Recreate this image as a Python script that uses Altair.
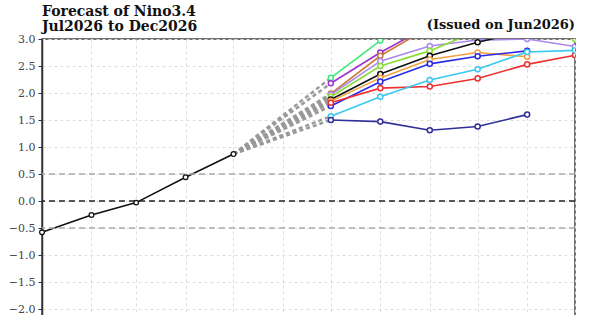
import altair as alt
import pandas as pd

# ---------------- data ----------------
obs_months = ["2026-01-01T00:00:00", "2026-02-01T00:00:00", "2026-03-01T00:00:00",
              "2026-04-01T00:00:00", "2026-05-01T00:00:00"]
obs_values = [-0.58, -0.26, -0.03, 0.44, 0.87]

fc_months = ["2026-07-01T00:00:00", "2026-08-01T00:00:00", "2026-09-01T00:00:00",
             "2026-10-01T00:00:00", "2026-11-01T00:00:00", "2026-12-01T00:00:00"]

model_names = ["Model 1", "Model 2", "Model 3", "Model 4", "Model 5", "Model 6",
               "Model 7", "Model 8", "Model 9", "Model 10", "Model 11"]
model_colors = ["#3fe67a", "#9933cc", "#cc7a3a", "#aa88ee", "#88dd33", "#111111",
                "#f5a040", "#2a2ae6", "#ee3030", "#38c8f0", "#30309a"]

m1 = [2.28, 2.97, 3.55, 3.80, 3.90, 3.90]
m2 = [2.18, 2.75, 3.25, 3.40, 3.50, 3.50]
m3 = [1.99, 2.69, 3.22, 3.40, 3.50, 3.50]
m4 = [1.97, 2.59, 2.87, 2.98, 3.00, 2.86]
m5 = [1.93, 2.50, 2.78, 3.15, 3.20, 3.00]
m6 = [1.88, 2.35, 2.69, 2.94, 3.15, 3.30]
m7 = [1.85, 2.28, 2.62, 2.75, 2.67, None]
m8 = [1.76, 2.21, 2.54, 2.68, 2.78, None]
m9 = [1.82, 2.09, 2.12, 2.27, 2.53, 2.70]
m10 = [1.57, 1.93, 2.24, 2.44, 2.76, 2.79]
m11 = [1.50, 1.47, 1.31, 1.38, 1.60, None]
model_values = [m1, m2, m3, m4, m5, m6, m7, m8, m9, m10, m11]

y_ticks = [-2.5, -2.0, -1.5, -1.0, -0.5, 0.0, 0.5, 1.0, 1.5, 2.0, 2.5, 3.0]
ref_levels = [0.5, -0.5]
zero_level = [0.0]
title_lines = ["Forecast of Nino3.4", "Jul2026 to Dec2026"]
issued_text = ["(Issued on Jun2026)"]

# ---------------- tables ----------------
obs_df = pd.DataFrame({"date": obs_months, "value": obs_values})

rows = []
for name, vals in zip(model_names, model_values):
    for d, v in zip(fc_months, vals):
        if v is not None:
            rows.append({"date": d, "value": v, "model": name})
fc_df = pd.DataFrame(rows)

conn_rows = []
for name, vals in zip(model_names, model_values):
    conn_rows.append({"date": obs_months[-1], "value": obs_values[-1], "model": name})
    conn_rows.append({"date": fc_months[0], "value": vals[0], "model": name})
conn_df = pd.DataFrame(conn_rows)

ref_df = pd.DataFrame({"value": ref_levels})
zero_df = pd.DataFrame({"value": zero_level})
issued_df = pd.DataFrame({"t": issued_text})

# ---------------- scales ----------------
x_scale = alt.Scale(domain=[alt.DateTime(year=2026, month=1, date=1),
                            alt.DateTime(year=2026, month=12, date=1)])
y_scale = alt.Scale(domain=[-2.5, 3.0], nice=False, zero=False)
color_scale = alt.Scale(domain=model_names, range=model_colors)

x_axis = alt.Axis(tickCount=alt.TimeIntervalStep(interval="month", step=1),
                  grid=True, gridDash=[3, 3], gridColor="#dddddd",
                  domain=False, labels=False, ticks=False)
y_axis = alt.Axis(values=y_ticks, format=".1f", grid=True, gridDash=[3, 3],
                  gridColor="#dddddd", domainColor="#333333", domainWidth=1.5,
                  tickColor="#333333", tickSize=4, labelPadding=3, labelOverlap=False,
                  labelFont="DejaVu Serif", labelColor="#444444", labelFontSize=11)

x_enc = alt.X("date:T", scale=x_scale, title=None, axis=x_axis)
y_enc = alt.Y("value:Q", scale=y_scale, title=None, axis=y_axis)

# ---------------- layers ----------------
ref_rules = alt.Chart(ref_df).mark_rule(color="#aaaaaa", strokeWidth=1.5, strokeDash=[6, 4]).encode(
    y=y_enc)
zero_rule = alt.Chart(zero_df).mark_rule(color="#222222", strokeWidth=1.5, strokeDash=[6, 4]).encode(
    y=y_enc)

connectors = alt.Chart(conn_df).mark_line(color="#999999", strokeWidth=2.5, strokeDash=[4, 3]).encode(
    x=x_enc, y=y_enc, detail="model:N")

obs_line = alt.Chart(obs_df).mark_line(color="#111111", strokeWidth=1.6).encode(x=x_enc, y=y_enc)
obs_pts = alt.Chart(obs_df).mark_point(shape="circle", filled=True, fill="white", stroke="#111111",
                                       strokeWidth=1.3, size=22, opacity=1).encode(x=x_enc, y=y_enc)

fc_lines = alt.Chart(fc_df).mark_line(strokeWidth=1.6, clip=True).encode(
    x=x_enc, y=y_enc,
    color=alt.Color("model:N", scale=color_scale, legend=None),
    order=alt.Order("date:T"))
fc_pts = alt.Chart(fc_df).mark_point(shape="circle", filled=True, fill="white", strokeWidth=1.5,
                                     size=26, opacity=1, clip=True).encode(
    x=x_enc, y=y_enc,
    stroke=alt.Stroke("model:N", scale=color_scale, legend=None))

issued = alt.Chart(issued_df).mark_text(align="right", baseline="alphabetic", font="DejaVu Serif",
                                        fontSize=13, fontWeight="bold", color="#111111").encode(
    x=alt.value(533), y=alt.value(-10), text="t:N")

chart = alt.layer(obs_line, ref_rules, zero_rule, connectors, fc_lines, fc_pts, obs_pts, issued).properties(
    width=533, height=297,
    autosize="none",
    padding={"left": 42, "top": 39, "right": 25, "bottom": 40},
    title=alt.TitleParams(text=title_lines, anchor="start", frame="group", font="DejaVu Serif",
                          fontSize=14, fontWeight="bold", color="#111111", lineHeight=15,
                          offset=7, dy=22),
).configure_view(stroke="#444444", strokeWidth=1.5).configure_axisY(labelOverlap=False)

chart.save("out.html", embed_options={"renderer": "svg", "actions": False})
